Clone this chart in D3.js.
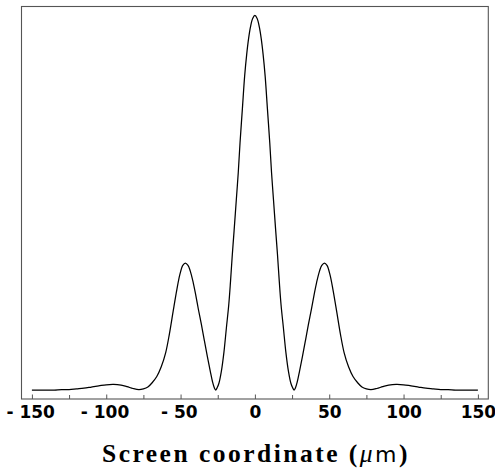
<!DOCTYPE html>
<html>
<head>
<meta charset="utf-8">
<script src="https://cdn.jsdelivr.net/npm/d3@7"></script>
<style>
  html, body { margin: 0; padding: 0; background: #fff; }
  svg { display: block; }
  .major text { font-family: "DejaVu Sans", sans-serif; font-weight: bold; font-size: 17px; white-space: pre; }
</style>
</head>
<body>
<svg id="chart" width="495" height="470"></svg>
<script>
// Screen coordinate (µm) — sampled from the reference curve
const xValues = [
  -150, -145, -140, -135, -130, -125, -120, -115, -110, -105, -100, -95, -90, -86, -82, -78,
  -75, -72, -69, -66, -63, -60, -57.5, -55, -52.5, -50.5, -48.5, -46.8, -45, -43.5, -41.5,
  -40, -38, -36, -34, -32, -30, -28.5, -27.3, -26.4, -25.4, -24.2, -22.6, -20.8, -19.2,
  -17.6, -16.4, -15.2, -14, -12.5, -11.2, -10, -8.4, -6.9, -5.5, -4.3, -3, -1.5, 0,
  1.5, 3, 4.3, 5.5, 6.9, 8.4, 10, 11.2, 12.5, 14, 15.2, 16.4, 17.6, 19.2, 20.8, 22.6,
  24.2, 25.4, 26.4, 27.3, 28.5, 30, 32, 34, 36, 38, 40, 41.5, 43.5, 45, 46.8, 48.5,
  50.5, 52.5, 55, 57.5, 60, 63, 66, 69, 72, 75, 78, 82, 86, 90, 95, 100, 105, 110,
  115, 120, 125, 130, 135, 140, 145, 150
];
// Relative intensity
const intensity = [
  0.000, 0.000, 0.000, 0.000, 0.001, 0.001, 0.003, 0.005, 0.008, 0.011, 0.014, 0.015, 0.013, 0.009, 0.004, 0.001,
  0.003, 0.008, 0.020, 0.036, 0.062, 0.100, 0.150, 0.210, 0.268, 0.308, 0.333, 0.339, 0.333, 0.318, 0.287,
  0.258, 0.215, 0.175, 0.132, 0.090, 0.050, 0.022, 0.006, 0.000, 0.006, 0.018, 0.049, 0.102, 0.165,
  0.227, 0.290, 0.361, 0.425, 0.508, 0.580, 0.660, 0.752, 0.838, 0.897, 0.937, 0.969, 0.992, 1.000,
  0.992, 0.969, 0.937, 0.897, 0.838, 0.752, 0.660, 0.580, 0.508, 0.425, 0.361, 0.290, 0.227, 0.165, 0.102, 0.049,
  0.018, 0.006, 0.000, 0.006, 0.022, 0.050, 0.090, 0.132, 0.175, 0.215, 0.258, 0.287, 0.318, 0.333, 0.339, 0.333,
  0.308, 0.268, 0.210, 0.150, 0.100, 0.062, 0.036, 0.020, 0.008, 0.003, 0.001, 0.004, 0.009, 0.013, 0.015, 0.014, 0.011, 0.008,
  0.005, 0.003, 0.001, 0.001, 0.000, 0.000, 0.000, 0.000
];
const majorTicks = [-150, -100, -50, 0, 50, 100, 150];
const minorTicks = [-125, -75, -25, 25, 75, 125];
const xLabel = "Screen coordinate (";

(function () {
  const svg = d3.select("#chart");
  const pLeft = 21.5, pRight = 488.3, pTop = 6.5, pBottom = 399;

  const x = d3.scaleLinear().domain([-157, 157]).range([pLeft, pRight]);
  const y = d3.scaleLinear().domain([-0.024, 1.024]).range([pBottom, pTop]);

  svg.append("rect").attr("width", 495).attr("height", 470).attr("fill", "#fff");

  // minor ticks
  const minorAxis = d3.axisBottom(x).tickValues(minorTicks).tickSizeInner(-4).tickSizeOuter(0).tickFormat("");
  const gMinor = svg.append("g").attr("transform", `translate(0,${pBottom})`).call(minorAxis);
  gMinor.select(".domain").remove();
  gMinor.selectAll("line").attr("stroke", "#555").attr("stroke-width", 1);

  // major ticks and labels
  const fmt = d => d < 0 ? "- " + Math.abs(d) : String(d);
  const majorAxis = d3.axisBottom(x).tickValues(majorTicks).tickSizeInner(-4.5).tickSizeOuter(0)
    .tickPadding(6.5).tickFormat(fmt);
  const gMajor = svg.append("g").attr("class", "major")
    .attr("transform", `translate(0,${pBottom})`).call(majorAxis);
  gMajor.attr("font-size", null).attr("font-family", null);
  gMajor.select(".domain").remove();
  gMajor.selectAll("line").attr("stroke", "#555").attr("stroke-width", 1);
  gMajor.selectAll("text").attr("fill", "#000").attr("dx", d => d < 0 ? "-0.1em" : null);

  // frame
  svg.append("rect")
    .attr("x", pLeft).attr("y", pTop)
    .attr("width", pRight - pLeft).attr("height", pBottom - pTop)
    .attr("fill", "none").attr("stroke", "#555").attr("stroke-width", 1.1);

  // curve
  const pts = xValues.map((v, i) => [v, intensity[i]]);
  svg.append("path")
    .datum(pts)
    .attr("d", d3.line().x(d => x(d[0])).y(d => y(d[1])).curve(d3.curveCatmullRom.alpha(0.5)))
    .attr("fill", "none").attr("stroke", "#000").attr("stroke-width", 1.25);

  // axis title
  const title = svg.append("text")
    .attr("x", 256).attr("y", 462)
    .attr("text-anchor", "middle")
    .attr("font-family", "Liberation Serif")
    .attr("font-weight", "bold")
    .attr("font-size", 25.5)
    .attr("letter-spacing", 0)
    .attr("fill", "#000");
  title.append("tspan").text(xLabel);
  title.append("tspan").attr("font-style", "italic").attr("font-weight", "normal").text("μ");
  title.append("tspan").attr("font-family", "DejaVu Sans").attr("font-weight", "normal").attr("font-size", 22).text("m");
  title.append("tspan").text(")");
  const w = title.node().getComputedTextLength();
  const n = (xLabel + "μm)").length;
  const ls = Math.max(0, (308 - w) / n);
  title.attr("letter-spacing", ls);
})();
</script>
</body>
</html>
